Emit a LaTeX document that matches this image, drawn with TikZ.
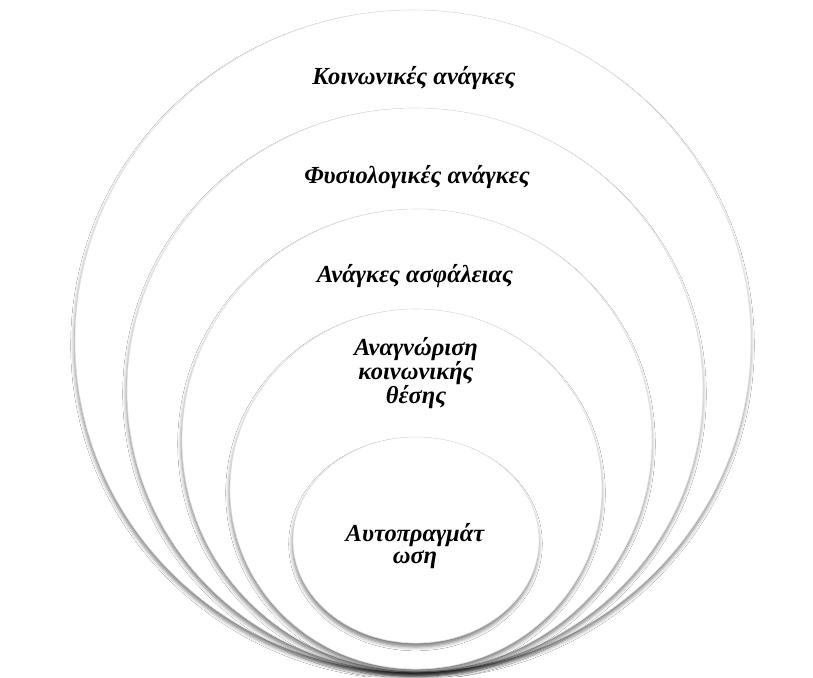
\documentclass[tikz,border=0pt]{standalone}
\usepackage{fontspec}
\setmainfont{Liberation Serif}
\usetikzlibrary{shadows.blur}
\begin{document}
\begin{tikzpicture}[x=1pt,y=-1pt,
  ring/.style={fill=white, draw=black!12, line width=0.6pt,
    blur shadow={shadow xshift=-0.5pt, shadow yshift=-4pt, shadow blur radius=3.8pt, shadow opacity=50}},
  lbl/.style={font=\fontsize{24.5}{22.5}\selectfont\bfseries\itshape, align=center, text=black, inner sep=0pt}]
\useasboundingbox[fill=white] (0,0) rectangle (813,677);
\path[ring] (413,341) ellipse [x radius=338, y radius=331];
\path[ring] (415,390) ellipse [x radius=288, y radius=282];
\path[ring] (417,440) ellipse [x radius=235, y radius=231];
\path[ring] (416,489) ellipse [x radius=186, y radius=180];
\path[ring] (416,540) ellipse [x radius=123, y radius=103];
\node[lbl] (t1) at (414,78) {Κοινωνικές ανάγκες};
\node[lbl] (t2) at (417,177) {Φυσιολογικές ανάγκες};
\node[lbl] (t3) at (415,276) {Ανάγκες ασφάλειας};
\node[lbl] (t4) at (416,373) {Αναγνώριση\\κοινωνικής\\θέσης};
\node[lbl] (t5) at (415,546) {Αυτοπραγμάτ\\ωση};
\end{tikzpicture}
\end{document}
